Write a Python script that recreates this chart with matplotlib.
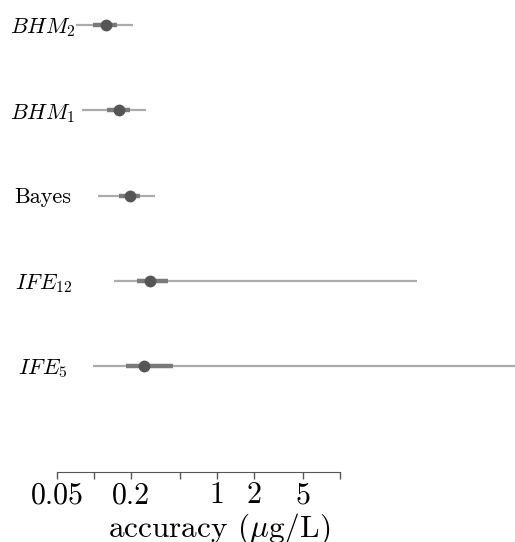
import matplotlib
matplotlib.use("Agg")
import matplotlib.pyplot as plt
import numpy as np

plt.rcParams['font.family'] = 'serif'
plt.rcParams['font.serif'] = ['cmr10']
plt.rcParams['mathtext.fontset'] = 'cm'
plt.rcParams['axes.unicode_minus'] = False
plt.rcParams['axes.formatter.use_mathtext'] = True

# models, top to bottom
labels = ['$BHM_2$', '$BHM_1$', 'Bayes', '$IFE_{12}$', '$IFE_5$']
median = [0.125, 0.160, 0.196, 0.285, 0.255]
iqr_low = [0.098, 0.128, 0.160, 0.224, 0.182]
iqr_high = [0.154, 0.196, 0.237, 0.400, 0.439]
hdi_low = [0.0714, 0.080, 0.108, 0.146, 0.098]
hdi_high = [0.208, 0.265, 0.313, 42.3, 400.0]

xticks = [0.05, 0.1, 0.2, 0.5, 1, 2, 5, 10]
xticklabels = ['0.05', '', '0.2', '', '1', '2', '5', '']

fig = plt.figure(figsize=(5.15, 5.42), dpi=100)
ax = fig.add_axes([48 / 515, 70 / 542, 1 - 48 / 515, 1 - 70 / 542])

ypos = np.arange(len(labels))
for y, m, il, ih, hl, hh in zip(ypos, median, iqr_low, iqr_high, hdi_low, hdi_high):
    ax.plot([hl, hh], [y, y], color='#ababab', lw=1.6, solid_capstyle='butt', zorder=1)
    ax.plot([il, ih], [y, y], color='#7a7a7a', lw=3.2, solid_capstyle='butt', zorder=2)
    ax.plot([m], [y], 'o', color='#555555', ms=7.5, zorder=3)

ax.set_xscale('log')
ax.set_xlim(0.0423, 265)
ax.set_ylim(5.243, -0.293)

ax.set_xticks(xticks)
ax.set_xticklabels(xticklabels, fontsize=21.5)
ax.xaxis.set_minor_locator(matplotlib.ticker.NullLocator())
ax.tick_params(axis='x', length=5, width=1, color='#555555', pad=2)

ax.set_yticks(ypos)
ax.set_yticklabels(labels, fontsize=16, ha='center')
ax.tick_params(axis='y', length=0)

for s in ['top', 'right', 'left']:
    ax.spines[s].set_visible(False)
ax.spines['bottom'].set_bounds(0.05, 10)
ax.spines['bottom'].set_color('#555555')

ax.set_xlabel(r'accuracy ($\mu$g/L)', fontsize=22.5, labelpad=0)
ax.xaxis.set_label_coords(0.366, -0.083)

fig.savefig('out.png', dpi=100)
